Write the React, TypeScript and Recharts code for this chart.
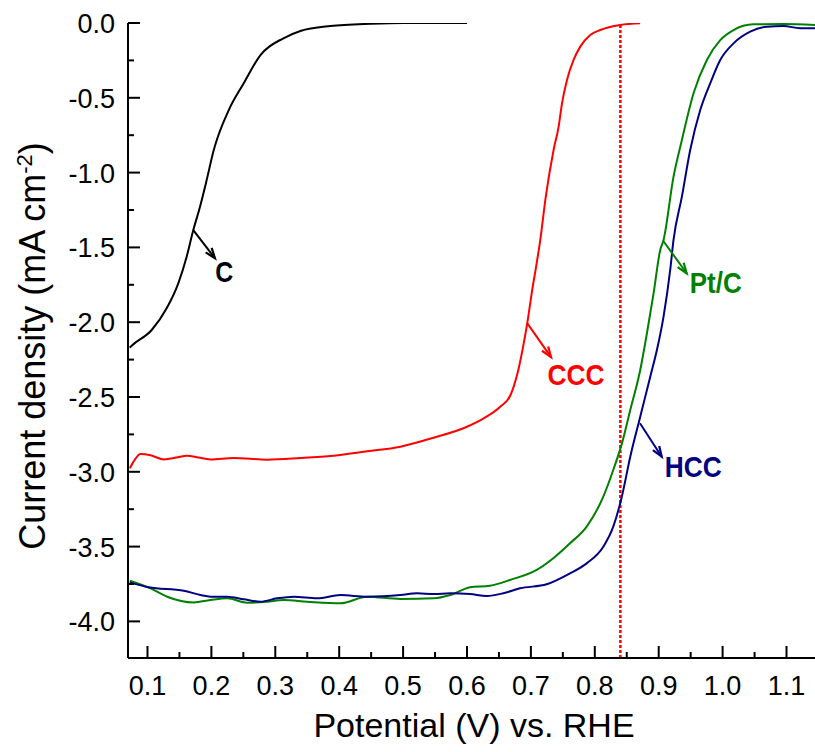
import React from "react"
import { LineChart, Line, XAxis, YAxis, ReferenceLine, ReferenceDot } from "recharts"

const FONT = '"Liberation Sans", Arial, Helvetica, sans-serif'

// axis ticks
const xMajor = [0.1, 0.2, 0.3, 0.4, 0.5, 0.6, 0.7, 0.8, 0.9, 1.0, 1.1]
const xMinor = [0.15, 0.25, 0.35, 0.45, 0.55, 0.65, 0.75, 0.85, 0.95, 1.05]
const yMajor = [0, -0.5, -1.0, -1.5, -2.0, -2.5, -3.0, -3.5, -4.0]
const yMinor = [-0.25, -0.75, -1.25, -1.75, -2.25, -2.75, -3.25, -3.75]

// C (black)
const cX = [0.0723, 0.0753, 0.1066, 0.13, 0.1482, 0.1613, 0.1717, 0.1822, 0.1926, 0.2037, 0.2272, 0.2506, 0.2768, 0.3127, 0.3393, 0.386, 0.45, 0.5, 0.6]
const cY = [-2.17, -2.157, -2.052, -1.907, -1.74, -1.562, -1.384, -1.228, -1.05, -0.849, -0.582, -0.403, -0.214, -0.102, -0.053, -0.02, -0.005, 0, 0]

// CCC (red)
const cccX = [0.0723, 0.08, 0.089, 0.105, 0.1255, 0.145, 0.162, 0.18, 0.1985, 0.235, 0.287, 0.339, 0.391, 0.4437, 0.4958, 0.5479, 0.6, 0.626, 0.652, 0.6678, 0.6803, 0.6897, 0.6944, 0.7022, 0.7085, 0.7147, 0.7226, 0.7355, 0.7434, 0.7487, 0.7565, 0.7668, 0.7773, 0.7929, 0.8086, 0.8399, 0.871]
const cccY = [-2.977, -2.92, -2.881, -2.89, -2.917, -2.905, -2.892, -2.905, -2.917, -2.908, -2.919, -2.908, -2.892, -2.863, -2.832, -2.772, -2.699, -2.643, -2.565, -2.49, -2.32, -2.12, -2.005, -1.78, -1.62, -1.45, -1.183, -0.849, -0.693, -0.537, -0.381, -0.247, -0.158, -0.08, -0.047, -0.013, -0.002]

// Pt/C (green)
const ptX = [0.0723, 0.1047, 0.1308, 0.1724, 0.1985, 0.2247, 0.256, 0.2872, 0.3132, 0.3498, 0.4019, 0.4437, 0.4958, 0.548, 0.574, 0.6047, 0.636, 0.6673, 0.7091, 0.735, 0.7612, 0.7873, 0.8133, 0.8289, 0.8425, 0.8555, 0.8711, 0.8816, 0.892, 0.9024, 0.9076, 0.9232, 0.9363, 0.9545, 0.9754, 0.9963, 1.0171, 1.0484, 1.0953, 1.1447]
const ptY = [-3.728, -3.779, -3.835, -3.873, -3.857, -3.846, -3.875, -3.868, -3.857, -3.868, -3.879, -3.835, -3.85, -3.846, -3.824, -3.772, -3.761, -3.723, -3.656, -3.578, -3.478, -3.366, -3.166, -2.988, -2.81, -2.587, -2.32, -2.074, -1.807, -1.517, -1.45, -1.027, -0.782, -0.47, -0.247, -0.114, -0.047, -0.009, -0.007, -0.013]

// HCC (navy)
const hccX = [0.0723, 0.102, 0.1568, 0.1829, 0.1985, 0.2247, 0.2506, 0.2768, 0.3029, 0.3289, 0.3654, 0.4019, 0.4437, 0.4958, 0.5219, 0.548, 0.574, 0.6047, 0.6308, 0.6568, 0.6829, 0.7247, 0.7612, 0.7873, 0.8133, 0.8289, 0.8421, 0.8555, 0.8711, 0.8868, 0.8972, 0.9076, 0.918, 0.9232, 0.9363, 0.9493, 0.965, 0.9806, 0.9963, 1.0171, 1.0432, 1.0693, 1.0953, 1.1214, 1.1447]
const hccY = [-3.739, -3.772, -3.795, -3.824, -3.835, -3.835, -3.852, -3.868, -3.846, -3.835, -3.846, -3.824, -3.835, -3.824, -3.812, -3.817, -3.812, -3.817, -3.83, -3.812, -3.779, -3.752, -3.679, -3.612, -3.501, -3.367, -3.17, -2.899, -2.632, -2.364, -2.186, -1.963, -1.651, -1.45, -1.161, -0.849, -0.582, -0.403, -0.247, -0.136, -0.058, -0.025, -0.02, -0.035, -0.035]

// dotted marker
const markerX = 0.84

// annotations
const annoText = ["C", "CCC", "Pt/C", "HCC"]
const arrowFromX = [0.1717, 0.6939, 0.9072, 0.8707]
const arrowFromY = [-1.384, -2.005, -1.457, -2.676]
const arrowToX = [0.2056, 0.7315, 0.9438, 0.9047]
const arrowToY = [-1.573, -2.233, -1.673, -2.899]
const annoX = [0.22, 0.7706, 0.9893, 0.9541]
const annoY = [-1.729, -2.42, -1.803, -3.033]

const annoColors = ["#000000", "#ff0000", "#008000", "#000080"]
const annoWidths = [18, 57, 52, 57]

const toRows = (xs: number[], ys: number[]) => xs.map((x, i) => ({ x, y: ys[i] }))

const series = [
  { name: "C", data: toRows(cX, cY), color: "#000000" },
  { name: "CCC", data: toRows(cccX, cccY), color: "#ff0000" },
  { name: "Pt/C", data: toRows(ptX, ptY), color: "#008000" },
  { name: "HCC", data: toRows(hccX, hccY), color: "#000080" },
]

const isMajor = (v: number, list: number[]) => list.some((m) => Math.abs(m - v) < 1e-6)

const BottomTick = (props: any) => {
  const { x, y, payload } = props
  const major = isMajor(payload.value, xMajor)
  return (
    <g>
      <line x1={x} y1={y} x2={x} y2={y - (major ? 12 : 6)} stroke="#000" strokeWidth={2} />
      {major && (
        <text x={x} y={y + 37} textAnchor="middle" fontSize={27} fontFamily={FONT} fill="#000">
          {payload.value.toFixed(1)}
        </text>
      )}
    </g>
  )
}

const TopTick = (props: any) => {
  const { x, y } = props
  return <line x1={x} y1={y} x2={x} y2={y + 3} stroke="#000" strokeWidth={2} />
}

const LeftTick = (props: any) => {
  const { x, y, payload } = props
  const major = isMajor(payload.value, yMajor)
  return (
    <g>
      <line x1={x} y1={y} x2={x + (major ? 12 : 6)} y2={y} stroke="#000" strokeWidth={2} />
      {major && (
        <text x={x - 13} y={y + 10} textAnchor="end" fontSize={27} fontFamily={FONT} fill="#000">
          {payload.value.toFixed(1)}
        </text>
      )}
    </g>
  )
}

const XTitle = () => (
  <text x={474} y={737} textAnchor="middle" fontSize={34} fontFamily={FONT} fill="#000">
    Potential (V) vs. RHE
  </text>
)

const YTitle = () => (
  <text transform="translate(45,346) rotate(-90)" textAnchor="middle" fontSize={36} fontFamily={FONT} fill="#000">
    Current density (mA cm
    <tspan dy={-13} fontSize={22}>-2</tspan>
    <tspan dy={13}>)</tspan>
  </text>
)

const Arrow = (props: any) => {
  const { x1, y1, x2, y2, color } = props
  const a = Math.atan2(y2 - y1, x2 - x1)
  const len = 11
  const w = 0.35
  const p1 = [x2 - len * Math.cos(a - w), y2 - len * Math.sin(a - w)]
  const p2 = [x2 - len * Math.cos(a + w), y2 - len * Math.sin(a + w)]
  return (
    <g>
      <line x1={x1} y1={y1} x2={x2} y2={y2} stroke={color} strokeWidth={2} />
      <polyline points={`${p1[0]},${p1[1]} ${x2},${y2} ${p2[0]},${p2[1]}`} fill="none" stroke={color} strokeWidth={2.2} />
    </g>
  )
}

const AnnoText = (props: any) => {
  const { cx, cy, text, color, width } = props
  return (
    <text x={cx} y={cy} textAnchor="middle" fontSize={30} fontWeight="bold" fontFamily={FONT} fill={color}
      textLength={width} lengthAdjust="spacingAndGlyphs">
      {text}
    </text>
  )
}

export default function App() {
  const xTicks = [...xMajor, ...xMinor].sort((a, b) => a - b)
  const yTicks = [...yMajor, ...yMinor].sort((a, b) => a - b)
  const xDomain = [0.0695, 1.1446]

  return (
    <div style={{ position: "absolute", left: 0, top: 0, width: 815, height: 752, background: "#fff" }}>
      <LineChart width={815} height={752} margin={{ top: 23, right: 0, bottom: 0, left: 0 }}>
        <XAxis
          dataKey="x"
          type="number"
          domain={xDomain}
          allowDataOverflow
          ticks={xTicks}
          interval={0}
          height={94}
          tickSize={0}
          tickMargin={0}
          tickLine={false}
          axisLine={{ stroke: "#000", strokeWidth: 2 }}
          tick={<BottomTick />}
          label={<XTitle />}
        />
        <XAxis
          xAxisId="top"
          orientation="top"
          dataKey="x"
          type="number"
          domain={xDomain}
          allowDataOverflow
          ticks={xTicks}
          interval={0}
          height={0}
          tickSize={0}
          tickMargin={0}
          tickLine={false}
          axisLine={{ stroke: "#000", strokeWidth: 2 }}
          tick={<TopTick />}
        />
        <YAxis
          type="number"
          domain={[-4.2447, 0]}
          allowDataOverflow
          ticks={yTicks}
          interval={0}
          width={128}
          tickSize={0}
          tickMargin={0}
          tickLine={false}
          axisLine={{ stroke: "#000", strokeWidth: 2 }}
          tick={<LeftTick />}
          label={<YTitle />}
        />
        <ReferenceLine x={markerX} stroke="#ff0000" strokeWidth={2.5} strokeDasharray="3 2" />
        {series.map((s) => (
          <Line
            key={s.name}
            data={s.data}
            dataKey="y"
            type="monotone"
            stroke={s.color}
            strokeWidth={2}
            dot={false}
            activeDot={false}
            isAnimationActive={false}
          />
        ))}
        {annoText.map((t, i) => (
          <ReferenceLine
            key={`arrow-${t}`}
            segment={[
              { x: arrowFromX[i], y: arrowFromY[i] },
              { x: arrowToX[i], y: arrowToY[i] },
            ]}
            shape={(p: any) => <Arrow {...p} color={annoColors[i]} />}
          />
        ))}
        {annoText.map((t, i) => (
          <ReferenceDot
            key={`label-${t}`}
            x={annoX[i]}
            y={annoY[i]}
            r={0}
            shape={(p: any) => <AnnoText {...p} text={t} color={annoColors[i]} width={annoWidths[i]} />}
          />
        ))}
      </LineChart>
    </div>
  )
}
